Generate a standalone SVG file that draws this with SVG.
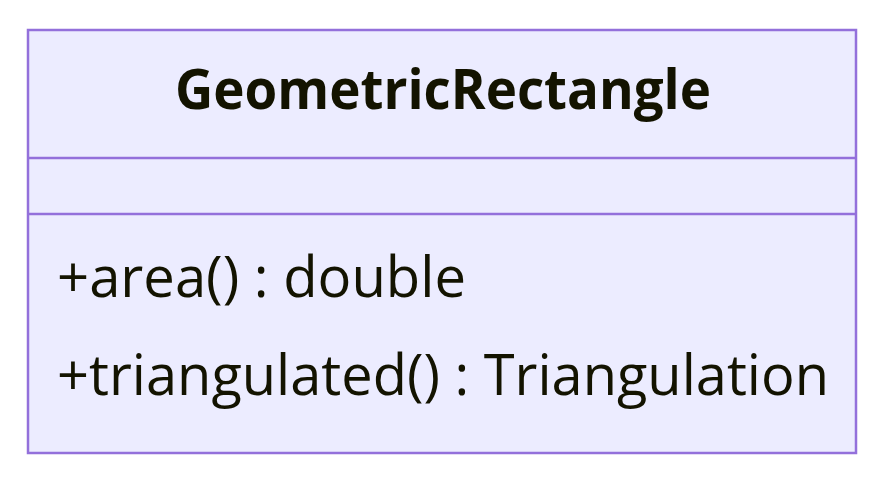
<svg xmlns="http://www.w3.org/2000/svg" width="885" height="486" viewBox="0 0 885 486">
<style>
.box{fill:#ECECFF;stroke:#9370DB;stroke-width:2.5}
.div{stroke:#9370DB;stroke-width:2.5}
text{font-family:"Open Sans","DejaVu Sans",sans-serif;fill:#131300;font-size:56px}
.title{font-weight:bold}
</style>
<rect width="885" height="486" fill="#ffffff"/>
<g id="GeometricRectangle">
<rect class="box" x="28" y="30" width="828" height="423"/>
<line class="div" x1="28" y1="158" x2="856" y2="158"/>
<line class="div" x1="28" y1="214" x2="856" y2="214"/>
<text class="title" x="175" y="109" textLength="536" lengthAdjust="spacingAndGlyphs">GeometricRectangle</text>
<text x="57" y="297" textLength="409" lengthAdjust="spacingAndGlyphs">+area() : double</text>
<text x="57" y="395" textLength="772" lengthAdjust="spacingAndGlyphs">+triangulated() : Triangulation</text>
</g>
<g id="connectors"/>
</svg>
